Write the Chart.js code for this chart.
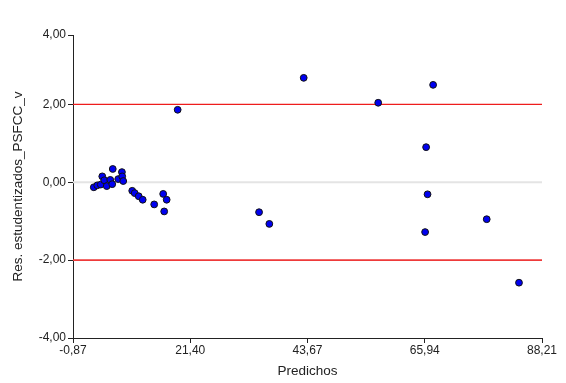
<!DOCTYPE html>
<html lang="es">
<head>
  <meta charset="UTF-8">
  <title>Residuos estudentizados vs predichos</title>
  <script src="https://cdn.jsdelivr.net/npm/chart.js"></script>
  <style>
    body { margin: 0; background: #fff; }
    #chart { display: block; }
  </style>
</head>
<body>
  <canvas id="chart" width="566" height="383"></canvas>

  <script>
    // predicted values (x) and studentized residuals (y)
    const predichos = [
      3.08, 3.74, 4.40, 4.69, 5.07, 5.54, 6.21, 6.58, 6.68, 7.72,
      8.42, 8.48, 8.67, 10.38, 10.85, 11.61, 12.37, 14.55, 16.26, 16.92,
      16.45, 19.01, 34.47, 36.42, 42.95, 57.10, 67.53, 66.20, 66.47, 66.01,
      77.71, 83.84
    ];
    const residuos = [
      -0.13, -0.08, -0.06, 0.15, 0.05, -0.10, 0.06, -0.05, 0.34, 0.08,
      0.26, 0.15, 0.03, -0.22, -0.28, -0.36, -0.45, -0.57, -0.30, -0.45,
      -0.75, 1.86, -0.77, -1.07, 2.68, 2.04, 2.50, 0.90, -0.31, -1.28,
      -0.95, -2.58
    ];

    const xTicks = [-0.87, 21.40, 43.67, 65.94, 88.21];
    const yTicks = [-4, -2, 0, 2, 3.78];
    const yTickLabels = ['-4,00', '-2,00', '0,00', '2,00', '4,00'];
    const limites = [-2, 2];

    const fmt = v => v.toFixed(2).replace('.', ',');
    const xMin = xTicks[0], xMax = xTicks[xTicks.length - 1];

    const refLine = (y, color, width) => ({
      type: 'line',
      data: [{ x: xMin, y: y }, { x: xMax, y: y }],
      borderColor: color,
      borderWidth: width,
      pointRadius: 0,
      order: 2
    });

    new Chart(document.getElementById('chart'), {
      type: 'scatter',
      data: {
        datasets: [
          refLine(0, '#e4e4e4', 2),
          refLine(limites[1], '#ee1c1c', 1.3),
          refLine(limites[0], '#ee3a3a', 1.6),
          {
            data: predichos.map((x, i) => ({ x: x, y: residuos[i] })),
            backgroundColor: '#0000f0',
            borderColor: '#111',
            borderWidth: 1,
            pointRadius: 3.4,
            order: 1
          }
        ]
      },
      options: {
        responsive: false,
        animation: false,
        layout: { padding: { top: 35, right: 24, left: 0, bottom: 0 } },
        plugins: { legend: { display: false }, tooltip: { enabled: false } },
        scales: {
          x: {
            type: 'linear',
            min: xMin,
            max: xMax,
            afterBuildTicks: s => { s.ticks = xTicks.map(v => ({ value: v })); },
            afterFit: s => { s.height = 45; },
            grid: { drawOnChartArea: false, tickLength: 5, color: '#222' },
            border: { color: '#222', width: 1 },
            ticks: {
              callback: v => fmt(v),
              color: '#222',
              font: { family: 'Liberation Sans', size: 12 },
              padding: 0,
              maxRotation: 0
            },
            title: {
              display: true,
              text: 'Predichos',
              color: '#222',
              font: { family: 'Liberation Sans', size: 13.5 },
              padding: { top: 4, bottom: 4 }
            }
          },
          y: {
            type: 'linear',
            min: yTicks[0],
            max: yTicks[yTicks.length - 1],
            afterBuildTicks: s => { s.ticks = yTicks.map(v => ({ value: v })); },
            afterFit: s => { s.width = 73; },
            grid: { drawOnChartArea: false, tickLength: 5, color: '#222' },
            border: { color: '#222', width: 1 },
            ticks: {
              callback: (v, i) => yTickLabels[i],
              color: '#222',
              font: { family: 'Liberation Sans', size: 12 },
              padding: 2
            },
            title: {
              display: true,
              text: 'Res. estudentizados_PSFCC_v',
              color: '#222',
              font: { family: 'Liberation Sans', size: 13.5 },
              padding: { top: 10, bottom: 4 }
            }
          }
        }
      }
    });
  </script>
</body>
</html>
